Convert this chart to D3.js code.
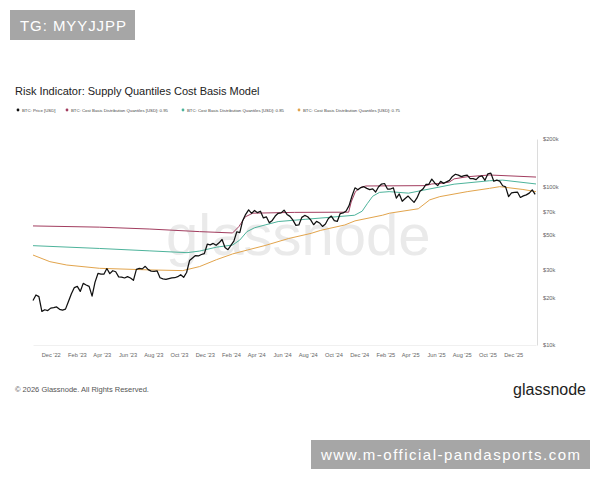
<!DOCTYPE html>
<html>
<head>
<meta charset="utf-8">
<script src="https://cdn.jsdelivr.net/npm/d3@7"></script>
<style>
  body { margin: 0; background: #fff; }
  text { font-family: "Liberation Sans", Arial, sans-serif; }
</style>
</head>
<body>
<div id="chart"></div>
<script>
// weekly BTC price, first point 2022-10-20, one value every 7 days
var priceStart = "2022-10-20";
var price = [
  19100, 20700, 20200, 16300, 16700, 16500, 17100, 17200, 17400, 16800, 16600,
  16850, 18850, 21100, 23050, 23450, 21800, 24500, 23950, 23450, 20350, 24950, 28300, 28050,
  28000, 30400, 28250, 29450, 29000, 26950, 26850, 26500, 27050, 26500, 25600, 30000, 30450,
  30250, 31400, 29900, 29300, 29200, 29400, 26600, 26150, 25950, 26250, 26550, 26600, 27000,
  27800, 26750, 28700, 34150, 35400, 36700, 36500, 37300, 37750, 43300, 42900, 43800, 42600,
  44200, 46400, 41300, 40000, 42600, 45300, 51900, 51300, 61200, 66900, 71400, 67800, 70700,
  68500, 70000, 63500, 64500, 59100, 61200, 65200, 67900, 68300, 71000, 66800, 64900, 61500,
  57000, 57300, 64000, 65800, 64600, 61700, 57500, 60400, 59000, 56100, 58100, 62900, 65200,
  61000, 60300, 67600, 68200, 70200, 75900, 87300, 98300, 95600, 98700, 100000, 97500, 95800,
  96900, 92500, 99900, 103900, 104700, 96600, 96600, 98300, 84700, 89900, 80900, 84200, 87200,
  83100, 79600, 84900, 93400, 96500, 103200, 103500, 111600, 105600, 101500, 108000, 104900, 107300,
  109600, 116000, 119800, 118300, 115700, 117500, 118400, 112400, 112500, 110700, 115500, 117100, 109600,
  120500, 121700, 108200, 110000, 108300, 101300, 99700, 86600, 91300, 92100, 92500, 85500, 87500,
  88700, 91000, 95500, 89500
];

// cost basis quantiles
var q95Dates = ["2022-10-20","2023-03-27","2023-07-24","2023-11-19","2024-02-05","2024-02-20","2024-03-06","2024-03-24","2024-07-01","2024-11-06","2024-11-12","2024-11-22","2024-12-05","2024-12-17","2025-05-08","2025-05-22","2025-06-15","2025-07-03","2025-07-14","2025-08-14","2025-10-06","2026-01-24"];
var q95 = [56500, 55500, 54000, 52000, 51000, 56000, 64500, 68000, 68800, 69000, 80000, 93000, 99000, 101000, 101500, 104000, 105000, 107000, 112000, 115500, 118500, 115000];

var q85Dates = ["2022-10-20","2023-03-27","2023-07-24","2023-10-20","2023-11-19","2023-12-29","2024-02-05","2024-02-22","2024-03-10","2024-03-28","2024-04-22","2024-05-23","2024-07-26","2024-09-18","2024-11-20","2024-12-08","2024-12-20","2025-01-02","2025-01-18","2025-02-10","2025-03-28","2025-05-02","2025-07-14","2025-10-06","2025-11-06","2026-01-24"];
var q85 = [42400, 40700, 39300, 38300, 39200, 41500, 42800, 46000, 52000, 55000, 57300, 60200, 62200, 63900, 66000, 70000, 78000, 87000, 92000, 93000, 91000, 95000, 103700, 109000, 110000, 104000];

var q75Dates = ["2022-10-20","2022-11-29","2023-01-08","2023-03-27","2023-07-24","2023-10-10","2023-11-19","2023-12-29","2024-02-05","2024-03-11","2024-04-22","2024-06-16","2024-08-09","2024-09-01","2024-10-28","2024-11-21","2025-01-25","2025-02-11","2025-04-20","2025-05-17","2025-06-10","2025-08-14","2025-10-06","2025-10-30","2025-12-24","2026-01-24"];
var q75 = [37000, 33600, 32000, 30500, 29800, 29500, 31300, 34600, 37600, 39800, 42500, 47000, 50700, 53000, 57300, 60800, 66000, 68000, 72500, 82500, 86500, 93000, 97600, 100000, 96000, 93000];

var legendNames = ["BTC: Price [USD]", "BTC: Cost Basis Distribution Quantiles [USD]: 0.95", "BTC: Cost Basis Distribution Quantiles [USD]: 0.85", "BTC: Cost Basis Distribution Quantiles [USD]: 0.75"];
var legendColors = ["#111111", "#a23d5f", "#4db39b", "#e2a44c"];

var yTicks = [10000, 20000, 30000, 50000, 70000, 100000, 200000];
var xTicks = ["2022-12-01","2023-02-01","2023-04-01","2023-06-01","2023-08-01","2023-10-01","2023-12-01","2024-02-01","2024-04-01","2024-06-01","2024-08-01","2024-10-01","2024-12-01","2025-02-01","2025-04-01","2025-06-01","2025-08-01","2025-10-01","2025-12-01"];

var parse = d3.timeParse("%Y-%m-%d");

var width = 600, height = 480;
var svg = d3.select("#chart").append("svg")
    .attr("width", width)
    .attr("height", height);

svg.append("rect").attr("width", width).attr("height", height).attr("fill", "#fff");

// scales
var x = d3.scaleTime()
    .domain([parse("2022-10-20"), parse("2026-01-24")])
    .range([33, 536]);
var y = d3.scaleLog()
    .domain([10000, 200000])
    .range([345, 139]);

// big watermark
svg.append("text")
    .attr("x", 166).attr("y", 255)
    .attr("font-size", 58)
    .attr("fill", "#eaeaea")
    .text("glassnode");

// title + legend
svg.append("text")
    .attr("x", 15).attr("y", 95)
    .attr("font-size", 11)
    .attr("fill", "#222")
    .text("Risk Indicator: Supply Quantiles Cost Basis Model");

var legendX = [18, 67, 183, 299];
var lg = svg.selectAll(".lg").data(legendNames).enter().append("g")
    .attr("class", "lg")
    .attr("transform", function(d, i) { return "translate(" + legendX[i] + ",110)"; });
lg.append("circle").attr("r", 1.4).attr("fill", function(d, i) { return legendColors[i]; });
lg.append("text")
    .attr("x", 4).attr("dy", "0.35em")
    .attr("font-size", 4.3)
    .attr("fill", "#444")
    .text(function(d) { return d; });

// axes
var yAxis = d3.axisRight(y).tickValues(yTicks)
    .tickFormat(function(d) { return "$" + d / 1000 + "k"; })
    .tickSize(0).tickSizeOuter(0).tickPadding(6);
var gy = svg.append("g").attr("transform", "translate(537,0)").call(yAxis);
gy.select(".domain").attr("stroke", "#dcdcdc");
gy.selectAll("text").attr("font-size", 5.7).attr("fill", "#666").attr("font-family", "Liberation Sans, Arial, sans-serif");

var xAxis = d3.axisBottom(x).tickValues(xTicks.map(parse))
    .tickFormat(d3.timeFormat("%b '%y"))
    .tickSize(0).tickSizeOuter(0).tickPadding(8);
var gx = svg.append("g").attr("transform", "translate(0,345)").call(xAxis);
gx.select(".domain").attr("stroke", "#f0f0f0");
gx.selectAll("text").attr("font-size", 5.7).attr("fill", "#666").attr("font-family", "Liberation Sans, Arial, sans-serif");

// lines
var line = d3.line()
    .x(function(d) { return x(d.date); })
    .y(function(d) { return y(d.value); });

function pairs(dates, vals) {
    return dates.map(function(d, i) { return { date: parse(d), value: vals[i] }; });
}

var priceData = price.map(function(v, i) {
    return { date: d3.timeDay.offset(parse(priceStart), i * 7), value: v };
});

svg.append("path").datum(pairs(q95Dates, q95))
    .attr("d", line).attr("fill", "none").attr("stroke", legendColors[1]).attr("stroke-width", 1);
svg.append("path").datum(pairs(q85Dates, q85))
    .attr("d", line).attr("fill", "none").attr("stroke", legendColors[2]).attr("stroke-width", 1);
svg.append("path").datum(pairs(q75Dates, q75))
    .attr("d", line).attr("fill", "none").attr("stroke", legendColors[3]).attr("stroke-width", 1);
svg.append("path").datum(priceData)
    .attr("d", line).attr("fill", "none").attr("stroke", legendColors[0])
    .attr("stroke-width", 1.25).attr("stroke-linejoin", "round");

// footer
svg.append("text")
    .attr("x", 15).attr("y", 392)
    .attr("font-size", 7.5)
    .attr("fill", "#555")
    .text("© 2026 Glassnode. All Rights Reserved.");
svg.append("text")
    .attr("x", 586).attr("y", 395)
    .attr("text-anchor", "end")
    .attr("font-size", 16)
    .attr("fill", "#222")
    .text("glassnode");

// overlay boxes
svg.append("rect").attr("x", 10).attr("y", 10).attr("width", 125).attr("height", 30).attr("fill", "#a6a6a6");
svg.append("text").attr("x", 20).attr("y", 31)
    .attr("font-family", "DejaVu Sans, sans-serif").attr("font-size", 15).attr("fill", "#fff")
    .attr("textLength", 106)
    .text("TG: MYYJJPP");
svg.append("rect").attr("x", 311).attr("y", 440).attr("width", 279).attr("height", 29).attr("fill", "#a6a6a6");
svg.append("text").attr("x", 321).attr("y", 460)
    .attr("font-family", "DejaVu Sans, sans-serif").attr("font-size", 15).attr("fill", "#fff")
    .attr("textLength", 259)
    .text("www.m-official-pandasports.com");
</script>
</body>
</html>
